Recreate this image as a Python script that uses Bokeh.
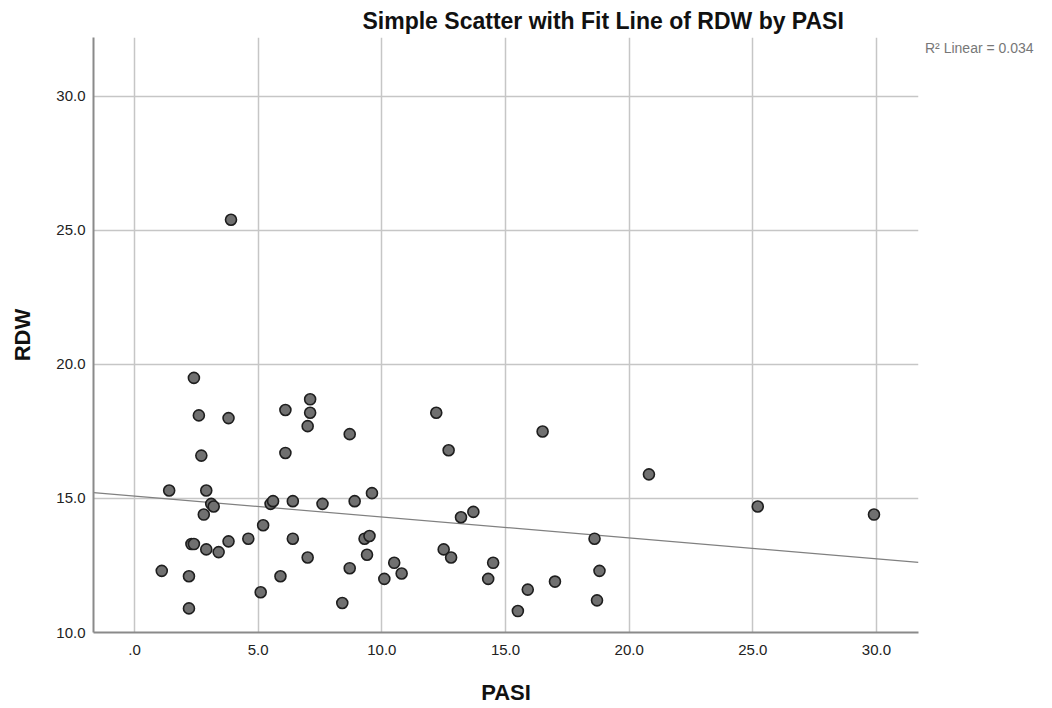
from bokeh.plotting import figure
from bokeh.models import Range1d, FixedTicker, ColumnDataSource, Legend, LegendItem
from bokeh.embed import file_html
from bokeh.resources import INLINE

# Data
pasi = [1.1, 1.4, 2.2, 2.2, 2.3, 2.4, 2.4, 2.6, 2.7, 2.8, 2.9, 2.9, 3.1, 3.2, 3.4,
        3.8, 3.8, 3.9, 4.6, 5.1, 5.2, 5.5, 5.6, 5.9, 6.1, 6.1, 6.4, 6.4, 7.0, 7.0,
        7.1, 7.1, 7.6, 8.4, 8.7, 8.7, 8.9, 9.3, 9.4, 9.5, 9.6, 10.1, 10.5, 10.8,
        12.2, 12.5, 12.7, 12.8, 13.2, 13.7, 14.3, 14.5, 15.5, 15.9, 16.5, 17.0,
        18.6, 18.7, 18.8, 20.8, 25.2, 29.9]
rdw = [12.3, 15.3, 12.1, 10.9, 13.3, 13.3, 19.5, 18.1, 16.6, 14.4, 15.3, 13.1, 14.8, 14.7, 13.0,
       18.0, 13.4, 25.4, 13.5, 11.5, 14.0, 14.8, 14.9, 12.1, 18.3, 16.7, 14.9, 13.5, 17.7, 12.8,
       18.7, 18.2, 14.8, 11.1, 17.4, 12.4, 14.9, 13.5, 12.9, 13.6, 15.2, 12.0, 12.6, 12.2,
       18.2, 13.1, 16.8, 12.8, 14.3, 14.5, 12.0, 12.6, 10.8, 11.6, 17.5, 11.9,
       13.5, 11.2, 12.3, 15.9, 14.7, 14.4]

fit_intercept = 15.09
fit_slope = -0.078
r2_text = "R\u00b2 Linear = 0.034"
title_text = "Simple Scatter with Fit Line of RDW by PASI"

x_ticks = [0, 5, 10, 15, 20, 25, 30]
x_tick_labels = [".0", "5.0", "10.0", "15.0", "20.0", "25.0", "30.0"]
y_ticks = [10, 15, 20, 25, 30]
y_tick_labels = ["10.0", "15.0", "20.0", "25.0", "30.0"]

x_min, x_max = -1.66, 31.7
y_min, y_max = 10.0, 32.2

FONT = "Liberation Sans"

p = figure(frame_width=825, frame_height=595, output_backend="svg", toolbar_location=None,
           x_range=Range1d(x_min, x_max), y_range=Range1d(y_min, y_max),
           min_border_left=93, min_border_right=112, min_border_top=37, min_border_bottom=55)
p.outline_line_color = None
p.background_fill_color = "white"

p.title.text = title_text
p.title.text_font = FONT
p.title.text_font_size = "23px"
p.title.text_font_style = "bold"
p.title.text_color = "#111111"
p.title.align = "left"
p.title.offset = 269
p.title.standoff = 8

# grid
for g in (p.xgrid, p.ygrid):
    g.grid_line_color = "#c6c6c6"
    g.grid_line_width = 1.5
p.xaxis.ticker = FixedTicker(ticks=x_ticks)
p.yaxis.ticker = FixedTicker(ticks=y_ticks)
p.xaxis.major_label_overrides = {t: l for t, l in zip(x_ticks, x_tick_labels)}
p.yaxis.major_label_overrides = {t: l for t, l in zip(y_ticks, y_tick_labels)}

for ax in (p.xaxis, p.yaxis):
    ax.axis_line_color = "#8a8a8a"
    ax.axis_line_width = 2
    ax.major_tick_line_color = None
    ax.minor_tick_line_color = None
    ax.major_tick_out = 0
    ax.major_tick_in = 0
    ax.major_label_text_font = FONT
    ax.major_label_text_font_size = "15px"
    ax.major_label_text_color = "#222222"
    ax.axis_label_text_font = FONT
    ax.axis_label_text_font_size = "22px"
    ax.axis_label_text_font_style = "bold"
    ax.axis_label_text_color = "#111111"

p.xaxis.axis_label = "PASI"
p.yaxis.axis_label = "RDW"
p.xaxis.major_label_standoff = 12
p.xaxis.axis_label_standoff = 22
p.yaxis.major_label_standoff = 8
p.yaxis.axis_label_standoff = 18

# fit line
fx = [x_min, x_max]
fy = [fit_intercept + fit_slope * x for x in fx]
p.line(fx, fy, line_color="#808080", line_width=1.2)

src = ColumnDataSource(dict(x=pasi, y=rdw))
p.scatter("x", "y", source=src, size=11, fill_color="#707070",
          line_color="#1e1e1e", line_width=1.6)

# R2 text as a glyph-less legend entry outside the frame
dummy = p.scatter(x=[], y=[], alpha=0)
leg = Legend(items=[LegendItem(label=r2_text, renderers=[dummy])],
             location="top_left", orientation="vertical",
             margin=0, padding=0, spacing=0,
             glyph_width=0, glyph_height=22, label_height=22, label_standoff=7,
             label_text_font=FONT, label_text_font_size="14px",
             label_text_color="#777777",
             border_line_color=None, background_fill_alpha=0)
p.add_layout(leg, "right")

open("out.html", "w").write(file_html(p, INLINE))
